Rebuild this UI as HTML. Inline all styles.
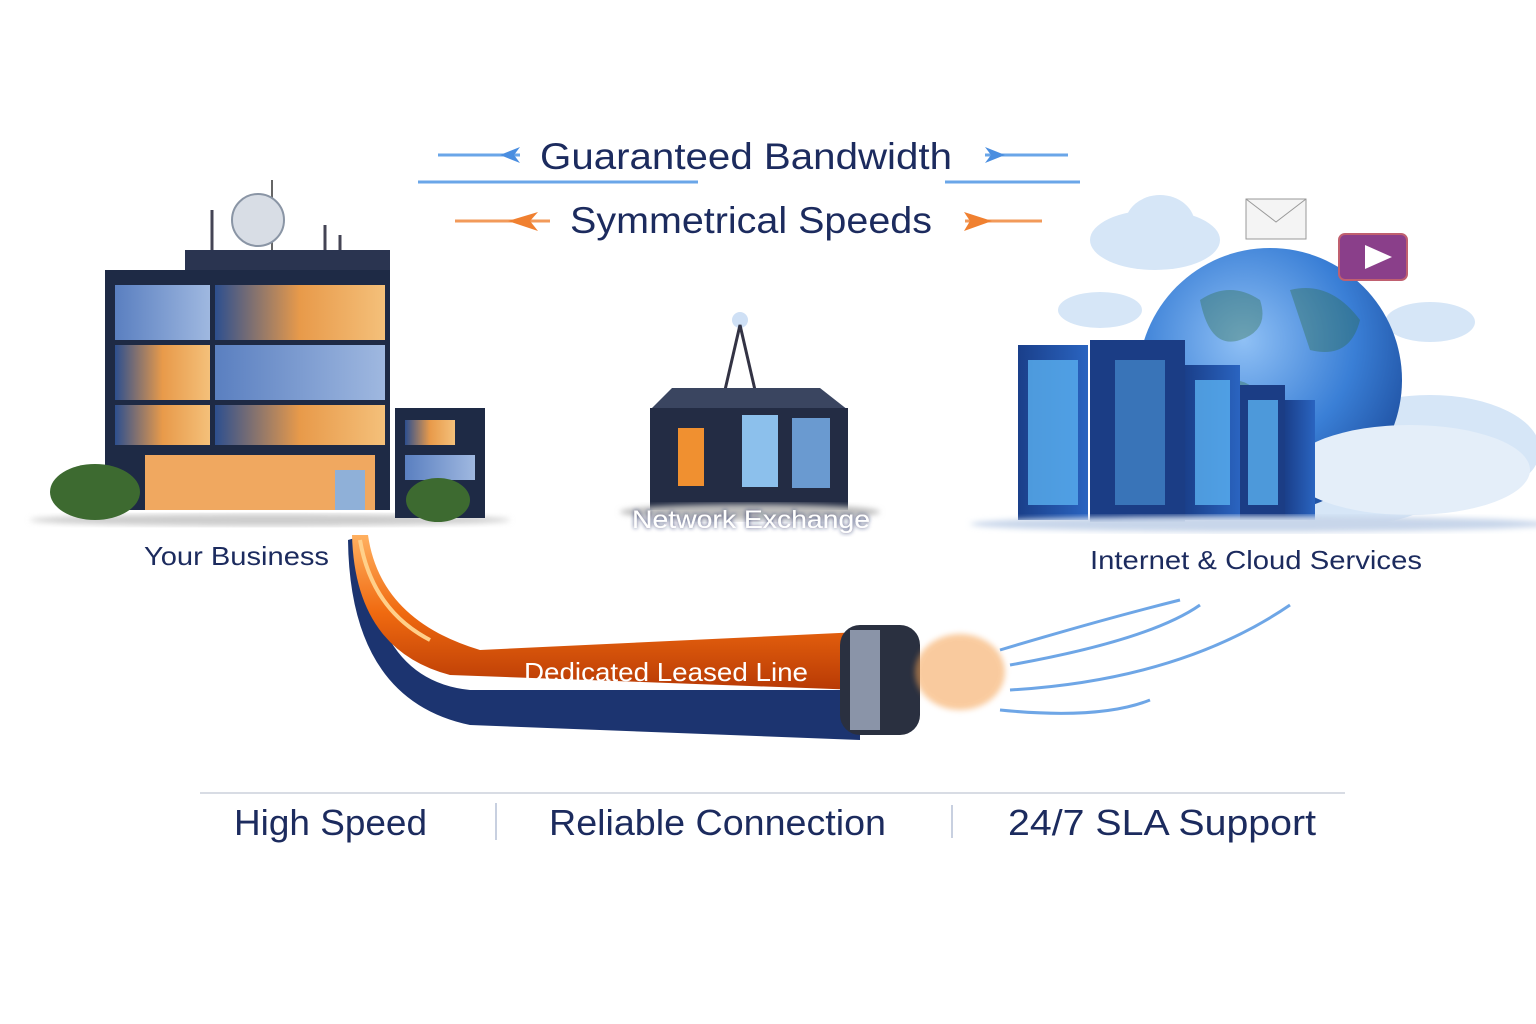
<!DOCTYPE html>
<html><head><meta charset="utf-8"><style>
html,body{margin:0;padding:0;background:#fff;width:1536px;height:1024px;overflow:hidden}
svg{display:block}
text{font-family:"Liberation Sans",sans-serif}
</style></head><body>
<svg width="1536" height="1024" viewBox="0 0 1536 1024" xmlns="http://www.w3.org/2000/svg">
<defs>
<linearGradient id="glass" x1="0" y1="0" x2="1" y2="0">
<stop offset="0" stop-color="#2d4f8f"/><stop offset="0.5" stop-color="#e89a4a"/><stop offset="1" stop-color="#f4c07a"/></linearGradient>
<linearGradient id="glass2" x1="0" y1="0" x2="1" y2="0">
<stop offset="0" stop-color="#5a7fc0"/><stop offset="1" stop-color="#9fb8e0"/></linearGradient>
<radialGradient id="globe" cx="0.4" cy="0.35" r="0.7">
<stop offset="0" stop-color="#8fc0f5"/><stop offset="0.6" stop-color="#3a7fd6"/><stop offset="1" stop-color="#1e4fa0"/></radialGradient>
<linearGradient id="orange" x1="0" y1="0" x2="0" y2="1">
<stop offset="0" stop-color="#ffb060"/><stop offset="0.5" stop-color="#f06a10"/><stop offset="1" stop-color="#b83a05"/></linearGradient>
<linearGradient id="srv" x1="0" y1="0" x2="1" y2="0">
<stop offset="0" stop-color="#1a3f8a"/><stop offset="1" stop-color="#2a64c0"/></linearGradient>
<filter id="blur"><feGaussianBlur stdDeviation="3"/></filter>
<filter id="glow"><feDropShadow dx="0" dy="0" stdDeviation="2" flood-color="#1c2b5e" flood-opacity="0.9"/></filter>
</defs>

<!-- top arrows -->
<g stroke="#6aa6e8" stroke-width="3" fill="none">
<line x1="438" y1="155" x2="520" y2="155"/>
<line x1="418" y1="182" x2="698" y2="182"/>
<line x1="985" y1="155" x2="1068" y2="155"/>
<line x1="945" y1="182" x2="1080" y2="182"/>
</g>
<polygon points="500,155 520,147 514,155 520,163" fill="#4a8ee0"/>
<polygon points="1005,155 985,147 991,155 985,163" fill="#4a8ee0"/>
<g stroke="#f29a5a" stroke-width="3"><line x1="455" y1="221" x2="550" y2="221"/><line x1="965" y1="221" x2="1042" y2="221"/></g>
<polygon points="508,221 538,212 530,221 538,231" fill="#f08030"/>
<polygon points="992,221 964,212 970,221 964,231" fill="#f08030"/>
<text x="540" y="169" textLength="412" lengthAdjust="spacingAndGlyphs" font-size="37" fill="#1c2b5e">Guaranteed Bandwidth</text>
<text x="570" y="233" textLength="362" lengthAdjust="spacingAndGlyphs" font-size="37" fill="#1c2b5e">Symmetrical Speeds</text>

<!-- left building -->
<ellipse cx="270" cy="520" rx="240" ry="6" fill="#ccc" filter="url(#blur)"/>
<line x1="272" y1="180" x2="272" y2="250" stroke="#666" stroke-width="2"/>
<circle cx="258" cy="220" r="26" fill="#d8dde5" stroke="#8a95a5" stroke-width="2"/>
<g stroke="#445" stroke-width="3"><line x1="212" y1="210" x2="212" y2="252"/><line x1="325" y1="225" x2="325" y2="258"/><line x1="340" y1="235" x2="340" y2="262"/></g>
<rect x="185" y="250" width="205" height="20" fill="#2a3450"/>
<rect x="105" y="270" width="285" height="240" fill="#1e2a45"/>
<rect x="115" y="285" width="95" height="55" fill="url(#glass2)"/>
<rect x="215" y="285" width="170" height="55" fill="url(#glass)"/>
<rect x="115" y="345" width="95" height="55" fill="url(#glass)"/>
<rect x="215" y="345" width="170" height="55" fill="url(#glass2)"/>
<rect x="115" y="405" width="95" height="40" fill="url(#glass)"/>
<rect x="215" y="405" width="170" height="40" fill="url(#glass)"/>
<rect x="145" y="455" width="230" height="55" fill="#f0a860"/>
<rect x="335" y="470" width="30" height="40" fill="#8fb0d8"/>
<rect x="395" y="408" width="90" height="110" fill="#1e2a45"/>
<rect x="405" y="420" width="50" height="25" fill="url(#glass)"/>
<rect x="405" y="455" width="70" height="25" fill="url(#glass2)"/>
<ellipse cx="95" cy="492" rx="45" ry="28" fill="#3d6a30"/>
<ellipse cx="438" cy="500" rx="32" ry="22" fill="#3d6a30"/>
<text x="144" y="565" textLength="185" lengthAdjust="spacingAndGlyphs" font-size="26" fill="#1c2b5e">Your Business</text>

<!-- center building -->
<circle cx="740" cy="320" r="8" fill="#cfe0f5"/>
<polygon points="740,325 725,390 755,390" fill="none" stroke="#334" stroke-width="3"/>
<polygon points="672,388 820,388 848,410 650,410" fill="#3a4560"/>
<rect x="650" y="408" width="198" height="102" fill="#232c44"/>
<rect x="678" y="428" width="26" height="58" fill="#f09030"/>
<rect x="742" y="415" width="36" height="72" fill="#8cc0ec"/>
<rect x="792" y="418" width="38" height="70" fill="#6a9ad0"/>
<ellipse cx="750" cy="512" rx="130" ry="8" fill="#bbb" filter="url(#blur)"/>
<text x="632" y="528" textLength="238" lengthAdjust="spacingAndGlyphs" font-size="25" fill="#fff" filter="url(#glow)">Network Exchange</text>

<!-- right side -->
<g fill="#d6e6f7">
<ellipse cx="1155" cy="240" rx="65" ry="30"/><ellipse cx="1160" cy="225" rx="35" ry="30"/>
<ellipse cx="1100" cy="310" rx="42" ry="18"/><ellipse cx="1430" cy="322" rx="45" ry="20"/>
<ellipse cx="1430" cy="450" rx="110" ry="55"/><ellipse cx="1350" cy="490" rx="90" ry="35"/>
</g>
<circle cx="1270" cy="380" r="132" fill="url(#globe)"/>
<path d="M1200 300 q30 -20 60 0 q10 30 -20 40 q-30 10 -40 -40z M1290 290 q40 -10 70 30 q-10 40 -50 30z M1230 380 q30 0 30 30 q-20 20 -40 0z" fill="#2a6a3a" opacity="0.35"/>
<ellipse cx="1410" cy="470" rx="120" ry="45" fill="#e4eef9"/>
<rect x="1018" y="345" width="70" height="175" fill="url(#srv)"/>
<rect x="1090" y="340" width="95" height="182" fill="#1b3d85"/>
<rect x="1185" y="365" width="55" height="155" fill="url(#srv)"/>
<rect x="1240" y="385" width="45" height="135" fill="#1b3d85"/>
<rect x="1285" y="400" width="30" height="120" fill="url(#srv)"/>
<g fill="#5ab0f0" opacity="0.8">
<rect x="1028" y="360" width="50" height="145"/><rect x="1115" y="360" width="50" height="145" opacity="0.6"/>
<rect x="1195" y="380" width="35" height="125"/><rect x="1248" y="400" width="30" height="105"/>
</g>
<ellipse cx="1260" cy="524" rx="290" ry="8" fill="#c8d6ea" filter="url(#blur)"/>
<rect x="1246" y="199" width="60" height="40" fill="#f4f4f4" stroke="#999"/>
<polyline points="1246,199 1276,222 1306,199" fill="none" stroke="#999"/>
<rect x="1339" y="234" width="68" height="46" rx="6" fill="#8a3f8a" stroke="#c06070" stroke-width="2"/>
<polygon points="1365,245 1392,257 1365,269" fill="#fff"/>
<text x="1090" y="569" textLength="332" lengthAdjust="spacingAndGlyphs" font-size="26" fill="#1c2b5e">Internet &amp; Cloud Services</text>

<!-- cable -->
<path d="M348 540 Q350 700 470 725 L860 740 L860 690 L470 690 Q370 680 365 535z" fill="#1c3470"/>
<path d="M352 535 Q355 650 450 675 L860 690 L860 632 L480 650 Q380 620 368 535z" fill="url(#orange)"/>
<path d="M360 540 Q372 610 430 640" stroke="#ffd08a" stroke-width="4" fill="none"/>
<rect x="840" y="625" width="80" height="110" rx="20" fill="#2a3040"/>
<rect x="850" y="630" width="30" height="100" fill="#8a94a8"/>
<ellipse cx="960" cy="672" rx="45" ry="38" fill="#f5a050" opacity="0.55" filter="url(#blur)"/>
<g stroke="#4a90e0" stroke-width="3" fill="none" opacity="0.8">
<path d="M1000 650 Q1100 620 1180 600"/><path d="M1010 665 Q1150 640 1200 605"/>
<path d="M1010 690 Q1180 680 1290 605"/><path d="M1000 710 Q1100 720 1150 700"/>
</g>
<text x="524" y="681" textLength="284" lengthAdjust="spacingAndGlyphs" font-size="26" fill="#fff">Dedicated Leased Line</text>

<!-- bottom -->
<line x1="200" y1="793" x2="1345" y2="793" stroke="#d8dce4" stroke-width="2"/>
<line x1="496" y1="803" x2="496" y2="840" stroke="#c8d0e0" stroke-width="2"/>
<line x1="952" y1="805" x2="952" y2="838" stroke="#c8d0e0" stroke-width="2"/>
<text x="234" y="835" textLength="193" lengthAdjust="spacingAndGlyphs" font-size="36" fill="#1c2b5e">High Speed</text>
<text x="549" y="835" textLength="337" lengthAdjust="spacingAndGlyphs" font-size="36" fill="#1c2b5e">Reliable Connection</text>
<text x="1008" y="835" textLength="308" lengthAdjust="spacingAndGlyphs" font-size="36" fill="#1c2b5e">24/7 SLA Support</text>
</svg>
</body></html>
